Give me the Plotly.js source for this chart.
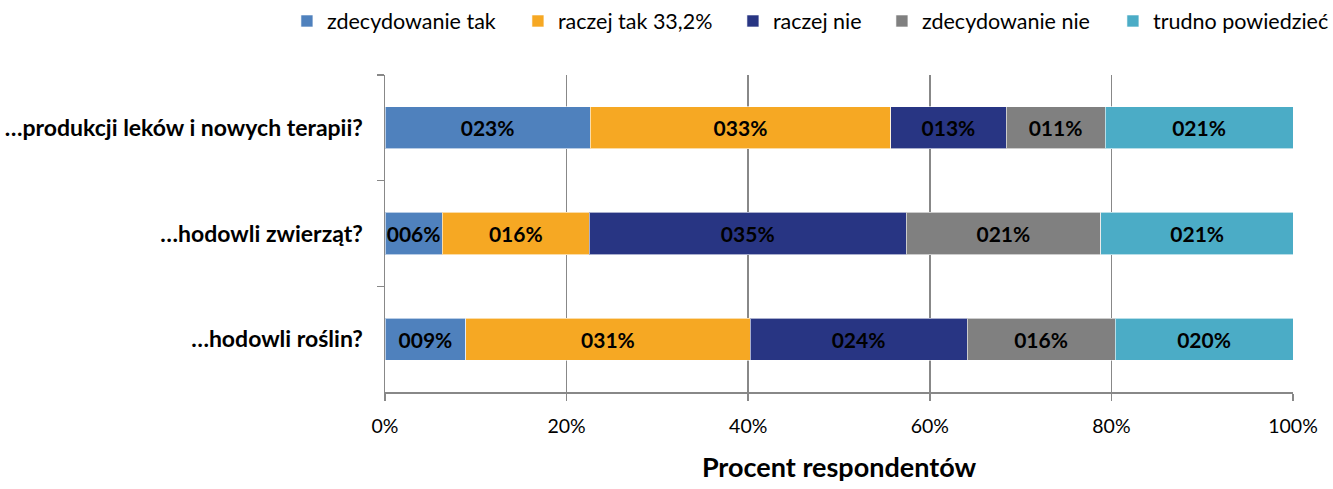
<!DOCTYPE html>
<html>
<head>
<meta charset="utf-8">
<script src="https://cdn.plot.ly/plotly-3.0.1.min.js"></script>
<style>html,body{margin:0;padding:0;background:#fff;}#chart{width:1333px;height:489px;}</style>
</head>
<body>
<div id="chart"></div>
<script>
const categories = ["…produkcji leków i nowych terapii?", "…hodowli zwierząt?", "…hodowli roślin?"];
const seriesNames = ["zdecydowanie tak", "raczej tak 33,2%", "raczej nie", "zdecydowanie nie", "trudno powiedzieć"];
const zdecydowanieTak = [22.6, 6.3, 8.9];
const raczejTak = [33.1, 16.2, 31.3];
const raczejNie = [12.7, 34.9, 23.9];
const zdecydowanieNie = [10.9, 21.4, 16.3];
const trudnoPowiedziec = [20.7, 21.3, 19.6];
const labelsZdecydowanieTak = ["023%", "006%", "009%"];
const labelsRaczejTak = ["033%", "016%", "031%"];
const labelsRaczejNie = ["013%", "035%", "024%"];
const labelsZdecydowanieNie = ["011%", "021%", "016%"];
const labelsTrudno = ["021%", "021%", "020%"];
const xTickVals = [0, 20, 40, 60, 80, 100];
const xTickText = ["0%", "20%", "40%", "60%", "80%", "100%"];

const colors = ["#4F81BD", "#F6A823", "#283583", "#808080", "#4BACC6"];
const legendWidths = [186, 170, 104, 186, 180];
const values = [zdecydowanieTak, raczejTak, raczejNie, zdecydowanieNie, trudnoPowiedziec];
const labels = [labelsZdecydowanieTak, labelsRaczejTak, labelsRaczejNie, labelsZdecydowanieNie, labelsTrudno];
const FONT = "Lato, 'Open Sans', sans-serif";

const traces = values.map((v, i) => ({
  type: 'bar',
  orientation: 'h',
  name: seriesNames[i],
  y: categories,
  x: v,
  text: labels[i],
  textposition: 'inside',
  insidetextanchor: 'middle',
  constraintext: 'none',
  textfont: {family: FONT, size: 21, color: '#000', weight: 'bold'},
  marker: {color: colors[i], line: {color: 'rgba(255,255,255,0.6)', width: 1}},
  legendwidth: legendWidths[i],
  hoverinfo: 'none',
  width: 0.4
}));

const layout = {
  width: 1333, height: 489,
  margin: {l: 385, r: 40, t: 75, b: 97, autoexpand: false},
  barmode: 'stack',
  paper_bgcolor: '#fff', plot_bgcolor: '#fff',
  font: {family: FONT, size: 19, color: '#000'},
  showlegend: true,
  legend: {
    orientation: 'h',
    x: -0.108, xanchor: 'left', y: 1.235, yanchor: 'top',
    font: {family: FONT, size: 21.5, color: '#000'},
    itemwidth: 30, traceorder: 'normal'
  },
  xaxis: {
    range: [0, 100], tickvals: xTickVals, ticktext: xTickText,
    showgrid: true, gridcolor: '#888', gridwidth: 1.5,
    zeroline: false, showline: true, linecolor: '#888', linewidth: 1.5,
    ticks: 'outside', ticklen: 7, tickcolor: '#888', tickwidth: 1.5,
    ticklabelstandoff: 9,
    tickfont: {family: FONT, size: 19.5, color: '#000'},
    title: {text: 'Procent respondentów', font: {family: FONT, size: 27, color: '#000', weight: 'bold'}, standoff: 22},
    fixedrange: true
  },
  yaxis: {
    type: 'category', categoryorder: 'array', categoryarray: categories,
    autorange: 'reversed',
    showline: true, linecolor: '#888', linewidth: 1.5,
    ticks: 'outside', tickson: 'boundaries', ticklen: 7, tickcolor: '#888', tickwidth: 1.5,
    showgrid: false, zeroline: false,
    tickfont: {family: FONT, size: 23, color: '#000', weight: 'bold'},
    ticklabelstandoff: 16,
    fixedrange: true
  }
};

Plotly.newPlot('chart', traces, layout, {displayModeBar: false, staticPlot: true});
</script>
</body>
</html>
